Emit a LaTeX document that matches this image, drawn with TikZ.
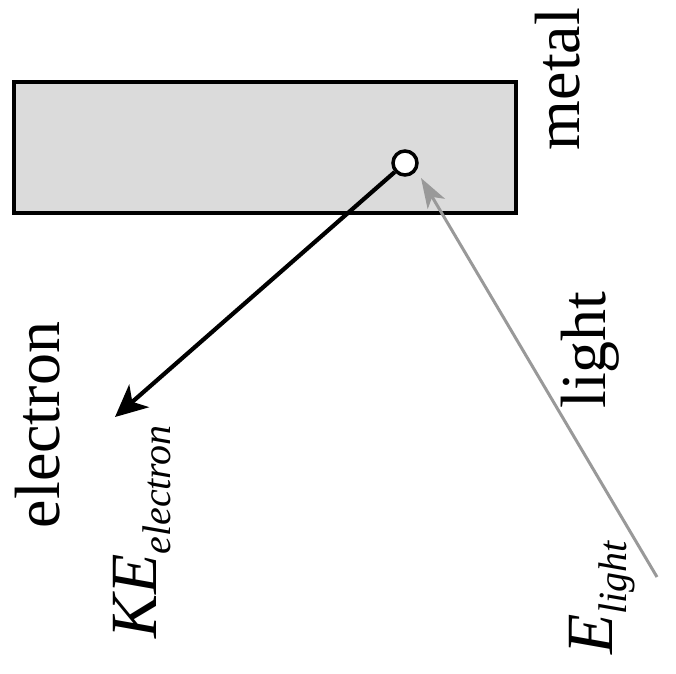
\documentclass[tikz,border=0pt]{standalone}
\usepackage{fontspec}
\setmainfont{Liberation Serif}
\usetikzlibrary{arrows.meta}
\begin{document}
\begin{tikzpicture}[x=1pt,y=-1pt,
  lbl/.style={rotate=90,font=\fontsize{64}{70}\selectfont,inner sep=0pt},
  sym/.style={rotate=90,font=\fontsize{66}{70}\selectfont\itshape,inner sep=0pt}]
\useasboundingbox (0,0) rectangle (676,673);
\node[draw,line width=4pt,fill=black!14,minimum width=502pt,minimum height=131pt,inner sep=0pt] (metalbox) at (265,147.5) {};
\node[draw,circle,line width=3.5pt,fill=white,minimum size=24pt,inner sep=0pt] (el) at (405,163) {};
\coordinate (etip) at (115,417);
\coordinate (lsrc) at (657,577);
\coordinate (ltip) at (421,178);
\draw[line width=4.2pt,-{Stealth[length=32pt,width=30pt,inset=9pt]}] (el) -- (etip);
\draw[line width=3pt,black!40,-{Stealth[length=30pt,width=20pt,inset=8pt]}] (lsrc) -- (ltip);
\node[lbl] (metal) at (558,79) {metal};
\node[lbl] (electron) at (38,425) {electron};
\node[lbl] (light) at (590,350) {light};
\node[sym] (ke) at (142,532) {KE\raisebox{-0.22em}{\fontsize{40}{44}\selectfont electron}};
\node[sym] (elight) at (602,598) {E\raisebox{-0.22em}{\fontsize{40}{44}\selectfont light}};
\end{tikzpicture}
\end{document}
